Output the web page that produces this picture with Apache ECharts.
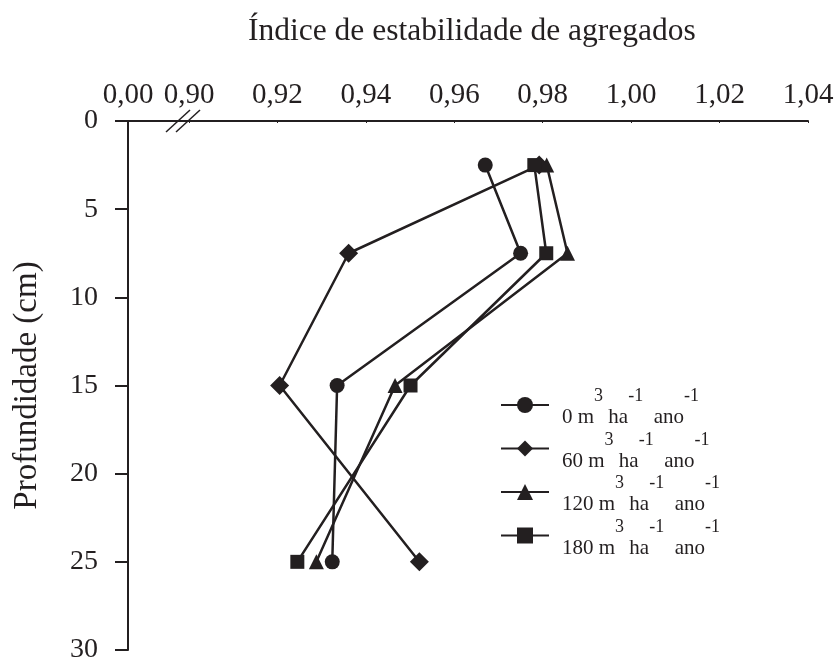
<!DOCTYPE html>
<html><head><meta charset="utf-8">
<script src="https://cdn.jsdelivr.net/npm/echarts@6/dist/echarts.min.js"></script>
<style>html,body{margin:0;padding:0;background:#fff}#c{width:838px;height:664px}</style>
</head><body><div id="c"></div>
<script>
// ---- data ----
const depths = [2.5, 7.5, 15, 25];
const dose0 = [0.967, 0.975, 0.9335, 0.9324];
const dose60 = [0.9792, 0.9361, 0.9205, 0.9521];
const dose120 = [0.9809, 0.9856, 0.9466, 0.9288];
const dose180 = [0.9781, 0.9808, 0.9501, 0.9245];
const doseNames = ['0', '60', '120', '180'];
const doseValues = [dose0, dose60, dose120, dose180];
const symbols = ['circle', 'diamond', 'triangle', 'rect'];
const symbolSizes = [15, 19, 15, 14];
const titleText = 'Índice de estabilidade de agregados';
const yName = 'Profundidade (cm)';

const INK = '#231f20';
const FONT = '"Liberation Serif", "Times New Roman", serif';

const chart = echarts.init(document.getElementById('c'));

const series = doseNames.map((n, i) => ({
  name: n,
  type: 'line',
  data: depths.map((d, j) => [doseValues[i][j], d]),
  symbol: symbols[i],
  symbolSize: symbolSizes[i],
  lineStyle: { color: INK, width: 2.5 },
  itemStyle: { color: INK },
  z: 3
}));

chart.setOption({
  animation: false,
  title: {
    text: titleText,
    left: 243, top: 11,
    textStyle: { fontFamily: FONT, fontSize: 31.5, fontWeight: 'normal', color: INK }
  },
  grid: { left: 128, right: 30, top: 121, bottom: 13 },
  legend: {
    orient: 'vertical',
    left: 500, top: 386,
    itemWidth: 48, itemHeight: 20, itemGap: 1.5,
    padding: 0,
    data: doseNames,
    formatter: n => `{p| }{h|${n} m}{s|3}{h| ha}{s|-1}{h|  ano}{s|-1}\n{p| }{n|${n} m}{hs|3}{n| ha}{hs|-1}{n|  ano}{hs|-1}`,
    textStyle: {
      fontFamily: FONT, color: INK,
      rich: {
        p: { width: 8, fontSize: 21, fontFamily: FONT, lineHeight: 16 },
        h: { fontSize: 21, fontFamily: FONT, color: 'rgba(0,0,0,0)', lineHeight: 25 },
        s: { fontSize: 18, fontFamily: FONT, color: INK, lineHeight: 25 },
        n: { fontSize: 21, fontFamily: FONT, color: INK, lineHeight: 17 },
        hs: { fontSize: 18, fontFamily: FONT, color: 'rgba(0,0,0,0)', lineHeight: 17 }
      }
    }
  },
  xAxis: {
    type: 'value',
    position: 'top',
    min: 0, max: 1.04, interval: 0.02,
    breaks: [{ start: 0, end: 0.9, gap: 0.0138 }],
    breakArea: { show: false },
    axisLine: { show: true, onZero: false, lineStyle: { color: INK, width: 2 } },
    axisTick: { show: true, inside: true, length: 2, lineStyle: { color: INK, width: 1 } },
    splitLine: { show: false },
    axisLabel: {
      margin: 11, fontFamily: FONT, fontSize: 29, color: INK,
      formatter: v => v.toFixed(2).replace('.', ',')
    }
  },
  yAxis: {
    type: 'value',
    inverse: true,
    min: 0, max: 30, interval: 5,
    name: yName,
    nameLocation: 'middle',
    nameGap: 84,
    nameTextStyle: { fontFamily: FONT, fontSize: 33, color: INK },
    axisLine: { show: true, onZero: false, lineStyle: { color: INK, width: 2 } },
    axisTick: { show: true, inside: false, length: 13, lineStyle: { color: INK, width: 2 } },
    splitLine: { show: false },
    axisLabel: { margin: 30, fontFamily: FONT, fontSize: 28, color: INK }
  },
  series
});

// continuous axis line across the break, and the "//" break marker near 0,90
const p0 = chart.convertToPixel({ xAxisIndex: 0 }, 0);
const px = chart.convertToPixel({ xAxisIndex: 0 }, 0.9);
const py = chart.convertToPixel({ yAxisIndex: 0 }, 0);
const slash = (cx) => ({
  type: 'line',
  shape: { x1: cx - 12, y1: py + 11, x2: cx + 12, y2: py - 11 },
  style: { stroke: INK, lineWidth: 1.5 }
});
chart.setOption({
  graphic: [
    { type: 'line', shape: { x1: p0, y1: py, x2: px, y2: py }, style: { stroke: INK, lineWidth: 2 } },
    slash(px - 11), slash(px - 1)
  ]
});
</script>
</body></html>
